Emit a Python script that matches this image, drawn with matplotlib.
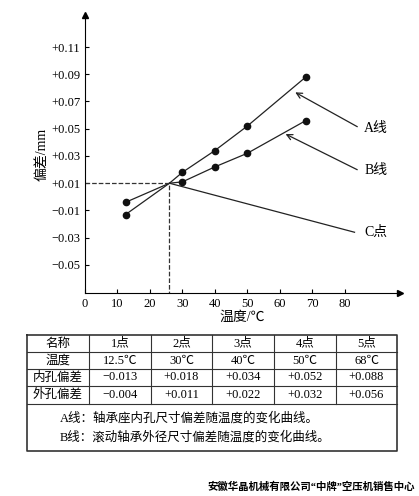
import matplotlib
matplotlib.use('Agg')
import matplotlib.pyplot as plt

plt.rcParams['font.family'] = ['Liberation Serif', 'Noto Sans CJK SC', 'DejaVu Sans']

names = ['名称', '1点', '2点', '3点', '4点', '5点']
temps = [12.5, 30, 40, 50, 68]
temp_labels = ['温度', '12.5℃', '30℃', '40℃', '50℃', '68℃']
inner_dev = [-0.013, 0.018, 0.034, 0.052, 0.088]
outer_dev = [-0.004, 0.011, 0.022, 0.032, 0.056]
inner_labels = ['内孔偏差', '−0.013', '+0.018', '+0.034', '+0.052', '+0.088']
outer_labels = ['外孔偏差', '−0.004', '+0.011', '+0.022', '+0.032', '+0.056']
c_point = (26, 0.01)
yticks = [0.11, 0.09, 0.07, 0.05, 0.03, 0.01, -0.01, -0.03, -0.05]
xticks = [0, 10, 20, 30, 40, 50, 60, 70, 80]

W, H = 419, 496
fig = plt.figure(figsize=(W/100, H/100), dpi=100)
ax = fig.add_axes([85/W, 1-293/H, (400-85)/W, (293-15)/H])
ax.set_xlim(0, 97)
ax.set_ylim(-0.0706, 0.1335)
for s in ['top', 'right']:
    ax.spines[s].set_visible(False)
ax.plot(1, 0, '>k', ms=4, transform=ax.transAxes, clip_on=False)
ax.plot(0, 1, '^k', ms=4, transform=ax.transAxes, clip_on=False)

def seg(xs, ys):
    # broken line through the C point
    xs2 = [xs[0], c_point[0]] + xs[1:]
    ys2 = [ys[0], c_point[1]] + ys[1:]
    ax.plot(xs2, ys2, color='#222', lw=0.9)
    ax.plot(xs, ys, 'o', color='#111', ms=4.5)

seg(temps, inner_dev)
seg(temps, outer_dev)
ax.plot([0, c_point[0], c_point[0]], [c_point[1], c_point[1], -0.0706], '--', color='#333', lw=0.9)
ax.plot([c_point[0], 83], [c_point[1], -0.026], color='#222', lw=0.9)
ax.annotate('', xy=(64, 0.0777), xytext=(84.6, 0.0505),
            arrowprops=dict(arrowstyle='->', color='#222', lw=0.9))
ax.annotate('', xy=(61, 0.047), xytext=(84.6, 0.019),
            arrowprops=dict(arrowstyle='->', color='#222', lw=0.9))
ax.text(86, 0.0505, 'A线', fontsize=10, va='center')
ax.text(86, 0.019, 'B线', fontsize=10, va='center')
ax.text(86, -0.026, 'C点', fontsize=10, va='center')

ax.set_xticks(xticks)
ax.set_xticklabels([str(t) for t in xticks], fontsize=9)
ax.set_yticks(yticks)
ax.set_yticklabels(['%+.2f' % t if t > 0 else '−%.2f' % -t for t in yticks], fontsize=9)
ax.tick_params(direction='in', length=3)
ax.set_xlabel('温度/℃', fontsize=10, labelpad=1)
ax.set_ylabel('偏差/mm', fontsize=10, labelpad=2)

# table
cols = [27, 89, 151, 212, 274, 336, 397]
rows = [335, 352, 369, 386, 404, 451]
tab = fig.add_axes([0, 0, 1, 1])
tab.set_xlim(0, W)
tab.set_ylim(H, 0)
tab.axis('off')
tab.plot([cols[0], cols[-1], cols[-1], cols[0], cols[0]], [rows[0], rows[0], rows[-1], rows[-1], rows[0]], color='#333', lw=1.2)
for r in rows[1:-1]:
    tab.plot([cols[0], cols[-1]], [r, r], color='#333', lw=0.8)
for c in cols[1:-1]:
    tab.plot([c, c], [rows[0], rows[4]], color='#333', lw=0.8)
for i, row in enumerate([names, temp_labels, inner_labels, outer_labels]):
    for j, txt in enumerate(row):
        tab.text((cols[j]+cols[j+1])/2, (rows[i]+rows[i+1])/2, txt, ha='center', va='center', fontsize=9)
tab.text(60, 418, 'A线：轴承座内孔尺寸偏差随温度的变化曲线。', fontsize=9, va='center')
tab.text(60, 437, 'B线：滚动轴承外径尺寸偏差随温度的变化曲线。', fontsize=9, va='center')
tab.text(415, 487, '安徽华晶机械有限公司“中牌”空压机销售中心', fontsize=7.5, ha='right', va='center', fontweight='bold')

fig.savefig('out.png', dpi=100)
